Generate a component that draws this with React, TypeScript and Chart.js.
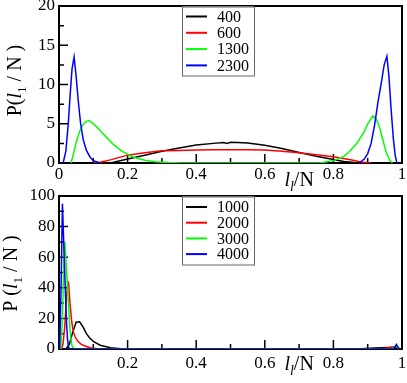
import React, { useEffect, useRef } from "react";
import { Chart, registerables } from "chart.js";

Chart.register(...registerables);

const FONT = "'Liberation Serif', 'Times New Roman', serif";
const seriesColors = ["#000000", "#ff0000", "#00ff00", "#0000ff"];

// ---------- top panel data ----------
const topLabels = ["400", "600", "1300", "2300"];
const top400X = [0.15, 0.2, 0.25, 0.3, 0.35, 0.4, 0.45, 0.48, 0.49, 0.5, 0.52, 0.55, 0.6, 0.65, 0.7, 0.75, 0.8, 0.83, 0.86, 0.88];
const top400Y = [0, 0.5, 1.0, 1.5, 1.9, 2.3, 2.5, 2.6, 2.5, 2.65, 2.6, 2.55, 2.25, 1.85, 1.35, 0.85, 0.45, 0.2, 0.05, 0];
const top600X = [0.1, 0.12, 0.15, 0.2, 0.25, 0.3, 0.35, 0.4, 0.45, 0.5, 0.55, 0.6, 0.65, 0.7, 0.75, 0.8, 0.85, 0.88, 0.91];
const top600Y = [0, 0.1, 0.4, 1.0, 1.3, 1.55, 1.6, 1.65, 1.7, 1.7, 1.7, 1.65, 1.5, 1.3, 1.05, 0.8, 0.4, 0.12, 0];
const top1300X = [0.035, 0.04, 0.05, 0.06, 0.07, 0.08, 0.088, 0.1, 0.11, 0.12, 0.14, 0.16, 0.18, 0.2, 0.22, 0.25, 0.28, 0.32, 0.36, 0.5, 0.7, 0.76, 0.8, 0.83, 0.85, 0.87, 0.89, 0.9, 0.915, 0.925, 0.935, 0.945, 0.955, 0.965, 0.972];
const top1300Y = [0, 0.8, 2.6, 4.0, 4.9, 5.3, 5.4, 5.0, 4.6, 4.1, 3.2, 2.3, 1.6, 1.1, 0.7, 0.35, 0.15, 0.05, 0, 0, 0, 0, 0.3, 0.8, 1.6, 2.6, 4.0, 5.0, 6.0, 5.6, 4.5, 2.8, 1.2, 0.3, 0];
const top2300X = [0.012, 0.02, 0.027, 0.033, 0.038, 0.044, 0.05, 0.056, 0.063, 0.071, 0.08, 0.09, 0.1, 0.12, 0.5, 0.875, 0.89, 0.9, 0.91, 0.92, 0.93, 0.94, 0.948, 0.956, 0.962, 0.968, 0.975, 0.98, 0.985];
const top2300Y = [0, 1.5, 5, 9, 12, 13.5, 11, 8, 5, 2.9, 1.6, 0.8, 0.3, 0, null, 0, 0.5, 1.2, 2.5, 4.8, 7.8, 10.3, 12.5, 13.6, 11, 7, 3, 1, 0];

// ---------- bottom panel data ----------
const botLabels = ["1000", "2000", "3000", "4000"];
const bot1000X = [0.02, 0.03, 0.04, 0.05, 0.06, 0.07, 0.08, 0.09, 0.1, 0.12, 0.15, 0.18, 0.2, 0.6, 0.88, 0.92, 0.96, 0.98, 0.99, 1.0];
const bot1000Y = [0, 3, 11, 17.5, 17.8, 14.5, 10, 7, 5, 2.5, 0.8, 0.2, 0, 0, 0.2, 0.6, 1.0, 1.2, 0.3, 0];
const bot2000X = [0.008, 0.012, 0.017, 0.022, 0.026, 0.028, 0.032, 0.037, 0.042, 0.047, 0.055, 0.065, 0.076, 0.09, 0.11, 0.13, 0.6, 0.94, 0.97, 0.985, 0.993];
const bot2000Y = [0, 4, 15, 35, 44, 43, 30, 18, 11, 8, 5, 3, 2, 0.8, 0.2, 0, 0, 0, 1.2, 1.8, 0];
const bot3000X = [0.005, 0.01, 0.014, 0.017, 0.02, 0.025, 0.03, 0.034, 0.038, 0.045, 0.6, 0.97, 0.982, 0.99, 0.995];
const bot3000Y = [0, 20, 55, 70, 60, 40, 20, 8, 2, 0, 0, 0, 2.2, 0.3, 0];
const bot4000X = [0.002, 0.006, 0.01, 0.013, 0.016, 0.019, 0.022, 0.025, 0.028, 0.032, 0.6, 0.975, 0.984, 0.99, 0.995];
const bot4000Y = [0, 40, 95, 75, 55, 35, 17, 6, 1, 0, 0, 0, 3, 0.5, 0];

const xTickValues = [0, 0.2, 0.4, 0.6, 0.8, 1];

type Part = { t: string; size: number; italic?: boolean; dy?: number };

function drawParts(ctx: CanvasRenderingContext2D, parts: Part[], cx: number, baseY: number) {
  let total = 0;
  const widths = parts.map((p) => {
    ctx.font = `${p.italic ? "italic " : ""}${p.size}px ${FONT}`;
    const w = ctx.measureText(p.t).width;
    total += w;
    return w;
  });
  let x = cx - total / 2;
  ctx.textAlign = "left";
  ctx.textBaseline = "alphabetic";
  parts.forEach((p, i) => {
    ctx.font = `${p.italic ? "italic " : ""}${p.size}px ${FONT}`;
    ctx.fillText(p.t, x, baseY + (p.dy || 0));
    x += widths[i];
  });
}

type PanelProps = {
  top: number;
  height: number;
  padTop: number;
  xAxisH: number;
  xLabelPad: number;
  labels: string[];
  xs: number[][];
  ys: (number | null)[][];
  yMax: number;
  yStep: number;
  yMinor: number;
  hideZeroX: boolean;
  yTitle: Part[];
  yTitleX: number;
  yTitleDy: number;
  xTitleDy: number;
  legendOffset: number;
  legendSpacing: number;
  legendH: number;
};

function Panel(p: PanelProps) {
  const ref = useRef<HTMLCanvasElement>(null);
  useEffect(() => {
    const framePlugin = {
      id: "frame",
      beforeDatasetsDraw(chart: any) {
        const { ctx, chartArea: a, scales } = chart;
        ctx.save();
        ctx.strokeStyle = "#000";
        ctx.lineWidth = 2;
        ctx.strokeRect(a.left, a.top, a.right - a.left, a.bottom - a.top);
        ctx.lineWidth = 1.5;
        ctx.beginPath();
        for (let i = 0; i <= 10; i++) {
          const px = scales.x.getPixelForValue(i / 10);
          const len = i % 2 === 0 ? 9 : 5;
          ctx.moveTo(px, a.bottom);
          ctx.lineTo(px, a.bottom - len);
        }
        const n = Math.round(p.yMax / p.yMinor);
        for (let i = 0; i <= n; i++) {
          const py = scales.y.getPixelForValue(i * p.yMinor);
          const len = i % 2 === 0 ? 9 : 5;
          ctx.moveTo(a.left, py);
          ctx.lineTo(a.left + len, py);
        }
        ctx.stroke();
        ctx.restore();
      },
      afterDraw(chart: any) {
        const { ctx, chartArea: a, scales } = chart;
        ctx.save();
        ctx.fillStyle = "#000";
        // x title
        drawParts(
          ctx,
          [
            { t: "l", size: 20, italic: true },
            { t: "l", size: 14, italic: true, dy: 5 },
            { t: "/N", size: 20 },
          ],
          scales.x.getPixelForValue(0.7),
          a.bottom + p.xTitleDy
        );
        // y title
        ctx.save();
        ctx.translate(p.yTitleX, (a.top + a.bottom) / 2 + p.yTitleDy);
        ctx.rotate(-Math.PI / 2);
        drawParts(ctx, p.yTitle, 0, 0);
        ctx.restore();
        // legend
        const lx = a.left + 123;
        const ly = a.top + 0.5;
        const w = 72;
        ctx.fillStyle = "#fff";
        ctx.fillRect(lx, ly, w, p.legendH);
        ctx.strokeStyle = "#666";
        ctx.lineWidth = 1;
        ctx.strokeRect(lx + 0.5, ly + 0.5, w, p.legendH);
        ctx.font = `16px ${FONT}`;
        ctx.textAlign = "left";
        ctx.textBaseline = "middle";
        p.labels.forEach((lab, i) => {
          const y = ly + p.legendOffset + i * p.legendSpacing;
          ctx.strokeStyle = seriesColors[i];
          ctx.lineWidth = 2;
          ctx.beginPath();
          ctx.moveTo(lx + 4, y);
          ctx.lineTo(lx + 25, y);
          ctx.stroke();
          ctx.fillStyle = "#000";
          ctx.fillText(lab, lx + 35, y + 1);
        });
        ctx.restore();
      },
    };

    const datasets = p.labels.map((lab, i) => ({
      label: lab,
      data: p.xs[i].map((x, j) => ({ x, y: p.ys[i][j] })),
      borderColor: seriesColors[i],
      backgroundColor: seriesColors[i],
      borderWidth: 1.5,
      pointRadius: 0,
      tension: 0,
      fill: false,
      spanGaps: false,
      order: 4 - i,
    }));

    const chart = new Chart(ref.current as HTMLCanvasElement, {
      type: "line",
      data: { datasets: datasets as any },
      options: {
        responsive: false,
        animation: false,
        devicePixelRatio: 1,
        layout: { padding: { top: p.padTop, right: 5, left: 0, bottom: 0 } },
        plugins: { legend: { display: false }, tooltip: { enabled: false } },
        scales: {
          x: {
            type: "linear",
            min: 0,
            max: 1,
            grid: { display: false, drawTicks: false, tickLength: 0 },
            border: { display: false },
            ticks: {
              stepSize: 0.2,
              autoSkip: false,
              maxRotation: 0,
              padding: p.xLabelPad,
              color: "#000",
              font: { family: FONT, size: 17 },
              callback: (v: any) => {
                const r = Math.round(Number(v) * 10) / 10;
                if (p.hideZeroX && r === 0) return "";
                return xTickValues.includes(r) ? String(r) : "";
              },
            },
            afterFit: (s: any) => {
              s.height = p.xAxisH;
              s.paddingLeft = 0;
              s.paddingRight = 0;
            },
          },
          y: {
            type: "linear",
            min: 0,
            max: p.yMax,
            grid: { display: false, drawTicks: false, tickLength: 0 },
            border: { display: false },
            ticks: {
              stepSize: p.yStep,
              padding: 4,
              color: "#000",
              font: { family: FONT, size: 17 },
            },
            afterFit: (s: any) => {
              s.width = 59;
              s.paddingTop = 0;
              s.paddingBottom = 0;
            },
          },
        },
      } as any,
      plugins: [framePlugin],
    });
    return () => chart.destroy();
  }, []);
  return (
    <canvas
      ref={ref}
      width={407}
      height={p.height}
      style={{ position: "absolute", left: 0, top: p.top, width: 407, height: p.height }}
    />
  );
}

export default function App() {
  return (
    <div style={{ position: "absolute", left: 0, top: 0, width: 407, height: 383, background: "#fff" }}>
      <Panel
        top={0}
        height={195}
        padTop={6}
        xAxisH={32}
        xLabelPad={1}
        labels={topLabels}
        xs={[top400X, top600X, top1300X, top2300X]}
        ys={[top400Y, top600Y, top1300Y, top2300Y]}
        yMax={20}
        yStep={5}
        yMinor={2.5}
        hideZeroX={false}
        yTitle={[
          { t: "P(", size: 20 },
          { t: "l", size: 20, italic: true },
          { t: "1", size: 13, dy: 5 },
          { t: " / N )", size: 20 },
        ]}
        yTitleX={21}
        yTitleDy={-4}
        xTitleDy={23}
        legendOffset={10}
        legendSpacing={16.3}
        legendH={69}
      />
      <Panel
        top={188}
        height={195}
        padTop={8}
        xAxisH={34}
        xLabelPad={4}
        labels={botLabels}
        xs={[bot1000X, bot2000X, bot3000X, bot4000X]}
        ys={[bot1000Y, bot2000Y, bot3000Y, bot4000Y]}
        yMax={100}
        yStep={20}
        yMinor={10}
        hideZeroX={true}
        yTitle={[
          { t: "P (", size: 20 },
          { t: "l", size: 20, italic: true },
          { t: "1", size: 13, dy: 5 },
          { t: " / N )", size: 20 },
        ]}
        yTitleX={17}
        yTitleDy={1}
        xTitleDy={21}
        legendOffset={10.5}
        legendSpacing={15.7}
        legendH={68}
      />
    </div>
  );
}
